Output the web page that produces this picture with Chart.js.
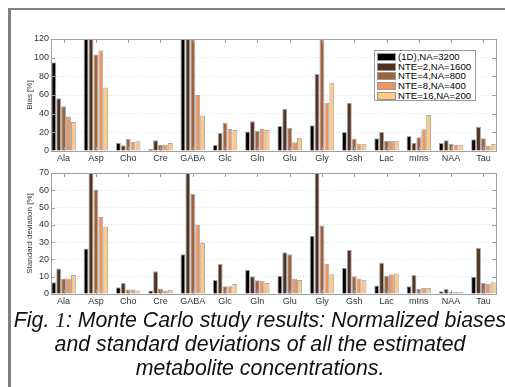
<!DOCTYPE html>
<html lang="en">
<head>
<meta charset="UTF-8">
<title>Monte Carlo study results</title>
<script src="https://cdn.jsdelivr.net/npm/chart.js"></script>
<style>
  body { margin: 0; background: #fff; overflow: hidden; width: 505px; height: 387px; position: relative; font-family: "Liberation Sans", Arial, sans-serif; }
  canvas { position: absolute; left: 0; }
  .frame { position: absolute; background: #808080; }
  #legend { position: absolute; left: 374px; top: 50px; width: 100px; height: 48px; border: 1px solid #9a9a9a; background: #fff; padding-top: 1px; z-index: 2; }
  #legend div { height: 9.7px; line-height: 9.7px; font-size: 9.6px; color: #000; white-space: nowrap; }
  #legend span { display: inline-block; width: 17px; height: 6px; border: 1px solid #999; margin: 0 2px 0 2px; vertical-align: -1px; }
  #caption { position: absolute; left: -20px; top: 308px; width: 560px; text-align: center; font-style: italic; font-size: 21.3px; line-height: 24px; color: #111; white-space: nowrap; }
  #caption i { font-family: "Liberation Serif", "Times New Roman", serif; }
</style>
</head>
<body>

<div class="frame" style="left:8px; top:8px; width:3px; height:379px;"></div>
<div class="frame" style="left:8px; top:8px; width:497px; height:2px;"></div>

<canvas id="biasChart" width="505" height="166" style="top:0"></canvas>
<canvas id="sdChart" width="505" height="150" style="top:160px"></canvas>
<div id="legend"></div>

<div id="caption">Fig. <i>1</i>: Monte Carlo study results: Normalized biases<br>and standard deviations of all the estimated<br>metabolite concentrations.</div>

<script>
    const categories = ['Ala', 'Asp', 'Cho', 'Cre', 'GABA', 'Glc', 'Gln', 'Glu', 'Gly', 'Gsh', 'Lac', 'mIns', 'NAA', 'Tau'];
    const seriesNames = ['(1D),NA=3200', 'NTE=2,NA=1600', 'NTE=4,NA=800', 'NTE=8,NA=400', 'NTE=16,NA=200'];
    const seriesColors = ['#000000', '#50321f', '#9f643f', '#ef955f', '#ffc77f'];

    // bias [%] (bars above 120 run off the top of the axes)
    const bias1D    = [95, 135, 8.9, 2.1, 135, 6.8, 21, 26.8, 27.5, 20.4, 13.6, 16, 8.6, 12.5];
    const biasNTE2  = [56.5, 135, 6.1, 11.4, 135, 19.3, 32, 45.4, 82.5, 51.8, 20.4, 8.9, 11.4, 26];
    const biasNTE4  = [48, 103.5, 13.2, 6.8, 135, 30.3, 21.8, 24.6, 135, 13.2, 11, 14.6, 7.5, 13.6];
    const biasNTE8  = [37, 108, 9.6, 6.8, 60, 23.6, 23.6, 9.3, 51.8, 7.9, 11, 23.2, 6.8, 5.4];
    const biasNTE16 = [31, 68, 10.4, 8.6, 38, 22.5, 22.5, 14.3, 73, 7.9, 11, 38.6, 6.8, 7.5];

    // standard deviation [%] (bars above 70 run off the top)
    const sd1D    = [6.8, 26.3, 3.9, 2, 23, 8.1, 14, 10.6, 33.7, 15.2, 4.9, 4.5, 1.6, 10];
    const sdNTE2  = [14.8, 80, 6.4, 13.1, 80, 17.5, 10.2, 24.2, 80, 25.5, 18.1, 11, 3, 26.7];
    const sdNTE4  = [8.9, 60.5, 2.6, 3.2, 57.8, 4.5, 7.9, 23, 39.7, 10.2, 10.4, 3, 1.2, 6.4];
    const sdNTE8  = [8.9, 44.5, 2.6, 2, 40, 4.5, 7.6, 8.9, 17.5, 8.9, 11.4, 3.5, 1.2, 6];
    const sdNTE16 = [11, 39, 2, 2.4, 29.5, 5.8, 6.4, 8.1, 11.4, 8.3, 11.9, 3.5, 1.2, 6.8];

    const FONT = '"Liberation Sans", Arial, sans-serif';

    // axes box with inward tick marks, like the MATLAB figure
    const boxPlugin = {
        id: 'box',
        afterDatasetsDraw(chart) {
            const { ctx, chartArea: a, scales } = chart;
            ctx.save();
            ctx.strokeStyle = '#a0a0a0';
            ctx.lineWidth = 1;
            ctx.beginPath();
            scales.x.ticks.forEach(t => {
                const px = Math.round(scales.x.getPixelForValue(t.value)) + 0.5;
                ctx.moveTo(px, a.top); ctx.lineTo(px, a.top + 4);
                ctx.moveTo(px, a.bottom); ctx.lineTo(px, a.bottom - 4);
            });
            scales.y.ticks.forEach(t => {
                const py = Math.round(scales.y.getPixelForValue(t.value)) + 0.5;
                ctx.moveTo(a.left, py); ctx.lineTo(a.left + 4, py);
                ctx.moveTo(a.right, py); ctx.lineTo(a.right - 4, py);
            });
            ctx.stroke();
            ctx.strokeRect(Math.round(a.left) + 0.5, Math.round(a.top) + 0.5,
                Math.round(a.right - a.left), Math.round(a.bottom - a.top));
            ctx.restore();
        }
    };

    function makeChart(id, series, yMax, yStep, yTitle, padTop, xHeight) {
        const datasets = series.map((vals, i) => ({
            label: seriesNames[i],
            data: vals.map((v, j) => ({ x: j + 1, y: v })),
            backgroundColor: seriesColors[i],
            borderColor: '#a8a8a8',
            borderWidth: 1,
            borderSkipped: 'bottom',
            categoryPercentage: 0.76,
            barPercentage: 1.0,
            clip: 0
        }));

        return new Chart(document.getElementById(id), {
            type: 'bar',
            data: { datasets: datasets },
            plugins: [boxPlugin],
            options: {
                responsive: false,
                animation: false,
                layout: { padding: { left: 20, top: padTop, right: 9, bottom: 0 } },
                plugins: { legend: { display: false }, tooltip: { enabled: false } },
                scales: {
                    x: {
                        type: 'linear',
                        min: 0.61,
                        max: 14.39,
                        offset: false,
                        grid: { display: false, offset: false, drawTicks: false },
                        border: { display: false },
                        afterBuildTicks: s => { s.ticks = categories.map((c, i) => ({ value: i + 1 })); },
                        afterFit: s => { s.height = xHeight; },
                        ticks: {
                            autoSkip: false,
                            maxRotation: 0,
                            padding: 2,
                            color: '#333',
                            font: { family: FONT, size: 9 },
                            callback: v => categories[v - 1]
                        }
                    },
                    y: {
                        min: 0,
                        max: yMax,
                        grid: { color: '#dedede', lineWidth: 1, drawTicks: false },
                        border: { display: false, dash: [1, 2] },
                        afterFit: s => { s.width = 31; },
                        ticks: {
                            stepSize: yStep,
                            padding: 2,
                            color: '#333',
                            font: { family: FONT, size: 9 }
                        },
                        title: {
                            display: true,
                            text: yTitle,
                            color: '#333',
                            font: { family: FONT, size: 8 },
                            padding: { top: 5, bottom: 0 }
                        }
                    }
                }
            }
        });
    }

    makeChart('biasChart', [bias1D, biasNTE2, biasNTE4, biasNTE8, biasNTE16], 120, 20, 'Bias [%]', 39, 15);
    makeChart('sdChart', [sd1D, sdNTE2, sdNTE4, sdNTE8, sdNTE16], 70, 10, 'Standard deviation [%]', 13, 16);

    // legend box, built from the series names and colours
    const legend = document.getElementById('legend');
    seriesNames.forEach((name, i) => {
        const row = document.createElement('div');
        const sw = document.createElement('span');
        sw.style.background = seriesColors[i];
        row.appendChild(sw);
        row.appendChild(document.createTextNode(name));
        legend.appendChild(row);
    });
</script>

</body>
</html>
